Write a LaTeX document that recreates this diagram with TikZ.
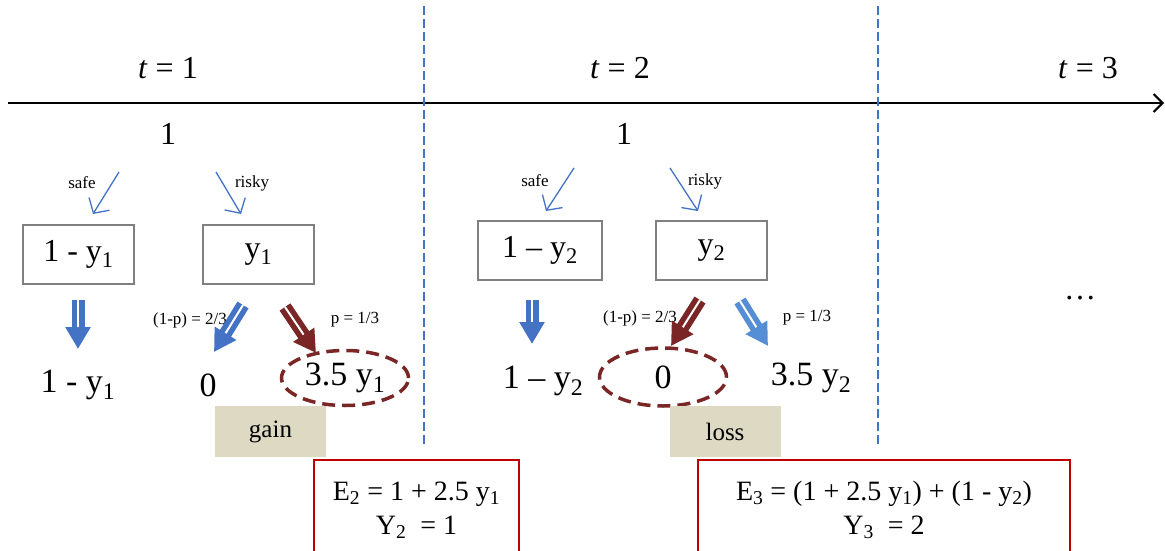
\documentclass[tikz,border=0pt]{standalone}
\usepackage{fontspec}
\setmainfont{Liberation Serif}
\usetikzlibrary{arrows.meta,shapes.geometric}
\definecolor{arrblue}{RGB}{68,114,196}
\definecolor{ltblue}{RGB}{85,142,213}
\definecolor{dkred}{RGB}{122,38,38}
\definecolor{boxgray}{RGB}{128,128,128}
\definecolor{beige}{RGB}{221,217,195}
\definecolor{frred}{RGB}{192,0,0}
\newcommand{\sbs}[1]{\textsubscript{#1}}
\tikzset{
  valbox/.style={draw=boxgray, line width=2pt, minimum width=111pt, minimum height=59pt, font=\fontsize{32}{32}\selectfont},
  result/.style={font=\fontsize{34}{34}\selectfont},
  ring/.style={ellipse, draw=dkred, line width=3.5pt, dash pattern=on 13pt off 7pt, minimum width=127pt, minimum height=55pt, inner sep=0pt},
  tiny/.style={font=\fontsize{17}{17}\selectfont},
  period/.style={font=\fontsize{32}{32}\selectfont},
  thin arrow/.style={draw=arrblue, line width=1.3pt, -{Straight Barb[length=11pt,width=24pt,line width=1.3pt]}},
  dbl/.style={line width=5.5pt, double distance=2pt, double=white, -{Triangle[length=22pt,width=24pt]}},
  tag/.style={fill=beige, minimum width=111pt, minimum height=51pt, font=\fontsize{25}{25}\selectfont},
  sumbox/.style={draw=frred, line width=2pt, minimum height=100pt, align=center, font=\fontsize{28}{34}\selectfont},
  divider/.style={draw=arrblue, line width=1.5pt, dash pattern=on 9pt off 4pt}
}
\begin{document}
\begin{tikzpicture}[x=1pt,y=-1pt]
  \useasboundingbox (0,0) rectangle (1165,551);

  % time axis
  \coordinate (ax0) at (8,103);
  \coordinate (ax1) at (1164,103);
  \draw[line width=2pt, -{Straight Barb[length=9pt,width=18pt,line width=2pt]}] (ax0) -- (ax1);
  \coordinate (d1a) at (424,6);
  \coordinate (d1b) at (424,446);
  \coordinate (d2a) at (878,6);
  \coordinate (d2b) at (878,446);
  \draw[divider] (d1a) -- (d1b);
  \draw[divider] (d2a) -- (d2b);

  \node[period] (t1) at (168,68) {\textit{t} = 1};
  \node[period] (t2) at (620,68) {\textit{t} = 2};
  \node[period] (t3) at (1088,68) {\textit{t} = 3};
  \node[period] (one1) at (168,134) {1};
  \node[period] (one2) at (624,134) {1};

  % period 1
  \node[tiny] (safe1) at (82,183) {safe};
  \node[tiny] (risky1) at (252,183) {risky};
  \coordinate (s1) at (119,172);
  \coordinate (r1) at (216,172);
  \node[valbox] (safebox1) at (78.5,254.5) {1 - y\sbs{1}};
  \node[valbox] (riskbox1) at (258.5,254.5) {y\sbs{1}};
  \draw[thin arrow] (s1) -- (93,214);
  \draw[thin arrow] (r1) -- (241,214);

  \node[result] (keep1) at (78,385) {1 - y\sbs{1}};
  \node[result] (zero1) at (208,385) {0};
  \node[result, ring] (win1) at (345,378) {3.5 y\sbs{1}};
  \node[tiny] (q1) at (190,320) {(1-p) = 2/3};
  \node[tiny] (p1) at (355,320) {p = 1/3};

  \coordinate (a1) at (78,300);
  \coordinate (b1) at (243,305);
  \coordinate (c1) at (285,307);
  \draw[dbl, arrblue] (a1) -- (78,349);
  \draw[dbl, arrblue] (b1) -- (214,352);
  \draw[dbl, dkred] (c1) -- (316,353);

  \node[tag] (gain) at (270.5,431.5) {gain};
  \node[sumbox, minimum width=205pt] (sum2) at (416.5,510) {E\sbs{2} = 1 + 2.5 y\sbs{1}\\Y\sbs{2} \ = 1};

  % period 2
  \node[tiny] (safe2) at (535,181) {safe};
  \node[tiny] (risky2) at (705,181) {risky};
  \coordinate (s2) at (574,168);
  \coordinate (r2) at (670,168);
  \node[valbox, minimum width=124pt] (safebox2) at (540,250.5) {1 – y\sbs{2}};
  \node[valbox] (riskbox2) at (711.5,250.5) {y\sbs{2}};
  \draw[thin arrow] (s2) -- (546,211);
  \draw[thin arrow] (r2) -- (698,211);

  \node[result] (keep2) at (543,381) {1 – y\sbs{2}};
  \node[result, ring, minimum height=58pt] (zero2) at (663,377) {0};
  \node[result] (win2) at (811,378) {3.5 y\sbs{2}};
  \node[tiny] (q2) at (640,318) {(1-p) = 2/3};
  \node[tiny] (p2) at (807,318) {p = 1/3};

  \coordinate (a2) at (532,300);
  \coordinate (b2) at (700,300);
  \coordinate (c2) at (740,301);
  \draw[dbl, arrblue] (a2) -- (532,344);
  \draw[dbl, dkred] (b2) -- (671,346);
  \draw[dbl, ltblue] (c2) -- (768,346);

  \node[tag] (loss) at (725,431.5) {loss};
  \node[sumbox, minimum width=372pt] (sum3) at (884,510) {E\sbs{3} = (1 + 2.5 y\sbs{1}) + (1 - y\sbs{2})\\Y\sbs{3} \ = 2};

  \node[period] (more) at (1080,298) {\dots};
\end{tikzpicture}
\end{document}
